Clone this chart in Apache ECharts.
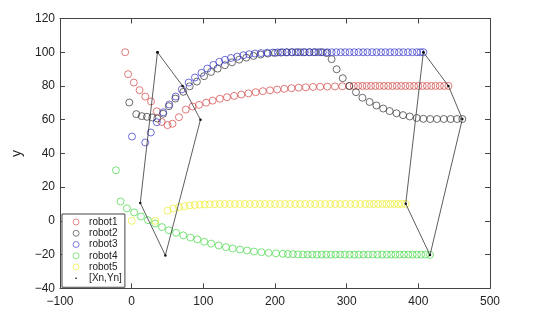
<!DOCTYPE html>
<html>
<head>
<meta charset="utf-8">
<script src="https://cdn.jsdelivr.net/npm/echarts@6/dist/echarts.min.js"></script>
<style>html,body{margin:0;padding:0;background:#fff;}#c{width:545px;height:328px;}</style>
</head>
<body>
<div id="c"></div>
<script>
// ---- data ----
var robot1 = [[-9,100],[-5,87],[3,82],[11,77.5],[19,73.7],[27,70.8],[35,65],[42,58.6],[50,56.8],[57,57.6],[66,61.5],[75.5,66],[85,67.8],[94,68.8],[104,70.1],[113,71.3],[123,72.4],[133,73.3],[143,74.1],[153,74.9],[163,75.6],[173,76.3],[183,76.9],[193,77.4],[203,77.9],[213,78.3],[223,78.7],[233,79],[243,79.2],[253,79.4],[263,79.5],[273,79.6],[283.7,79.7],[294,79.8],[303.7,79.9],[310,80],[316,80],[322,80],[328,80],[334,80],[340,80],[346,80],[352,80],[358,80],[364,80],[370,80],[376,80],[382,80],[388,80],[394,80],[400,80],[406,80],[412,80],[418,80],[424,80],[430,80],[436,80],[442,80]];
var robot2 = [[-3.3,70.2],[6.4,63.3],[14,62.1],[21.4,61.7],[28.8,61.3],[35.7,60.7],[44,63.5],[52,68],[61,72.5],[72,76.5],[81,79.8],[91,82.6],[101,85.8],[110.7,88.3],[120,90.3],[130,92.3],[140,94],[150,95.6],[160,96.8],[170,97.8],[180,98.6],[190,99.2],[200,99.6],[208,99.8],[216,99.9],[224,100],[232,100],[240,100],[248,100],[256,100],[264,100],[272,99.5],[279,95.9],[286,89.9],[294.5,84.6],[303.7,80],[313,76.3],[322,73],[332,70.5],[341.5,68.4],[351,66.6],[360,65.1],[369.5,63.8],[378.6,62.7],[388,61.9],[397.8,61],[407,60.5],[416.5,60.4],[426,60.4],[435.5,60.4],[445,60.4],[454,60.4],[461.4,60.4]];
var robot3 = [[0.4,50],[19,46.5],[26.7,52.4],[35,58.5],[44,64.4],[52.5,69],[61.4,73.7],[70,78],[79.5,82],[88.3,85],[97.5,87.8],[105.5,90.3],[114,92.5],[122.3,94.3],[130.2,95.5],[138.6,96.6],[147.4,97.4],[155.8,98.2],[164,98.8],[172,99.2],[180.5,99.5],[189,99.7],[197,99.8],[204,99.9],[210.5,100],[216.7,100],[223,100],[229,100],[235.5,100],[241.7,100],[248,100],[254,100],[260.5,100],[266.7,100],[273,100],[279,100],[285.5,100],[291.7,100],[298,100],[304,100],[310.5,100],[316.7,100],[323,100],[329,100],[335.5,100],[341.7,100],[348,100],[354,100],[360.5,100],[366.7,100],[373,100],[379,100],[385.5,100],[391.7,100],[398,100],[403,100],[407,100]];
var robot4 = [[-22,30],[-15.5,11.5],[-6.6,7.4],[3.5,5],[13,2.6],[22.8,0.4],[32.7,-1.6],[42.3,-3.7],[52,-5.6],[62,-7.1],[72,-8.6],[82,-9.9],[91.6,-11],[101.3,-12.4],[111,-13.5],[121.4,-14.6],[131.6,-15.6],[141,-16.4],[151.2,-17],[161,-17.6],[170.7,-18.2],[181,-18.6],[191,-19],[201.4,-19.3],[211,-19.5],[218,-19.7],[225,-19.8],[232,-19.9],[239,-20],[245.5,-20],[252,-20],[258.5,-20],[265,-20],[271.5,-20],[278,-20],[284.5,-20],[291,-20],[297.5,-20],[304,-20],[310.5,-20],[317,-20],[323.5,-20],[330,-20],[336.5,-20],[343,-20],[349.5,-20],[356,-20],[362,-20],[368,-20],[374,-20],[380,-20],[386,-20],[392,-20],[398,-20],[404,-20],[410,-20],[416.3,-20.2]];
var robot5 = [[0,0],[33,0],[50,6.1],[58,7.3],[66,8.2],[73.5,8.7],[81,9.1],[88,9.4],[95,9.6],[102,9.7],[109,9.8],[116,9.9],[123,10],[130,10],[137,10],[144,10],[151,10],[158,10],[165,10],[172,10],[179,10],[186,10],[193,10],[200,10],[207,10],[214,10],[221,10],[228,10],[235,10],[242,10],[249,10],[256,10],[263,10],[270,10],[277,10],[284,10],[291,10],[298,10],[305,10],[312,10],[319,10],[326,10],[332,10],[338,10],[344,10],[350,10],[355.5,10],[361,10],[366.5,10],[372,10],[377,10],[382.4,10.1]];
var formationStart = [[36,100],[71,80],[96,60],[47,-20.5],[12,10.6],[36,100]];
var formationEnd = [[407,100],[442,80],[461.4,60.4],[416.3,-20.3],[382.4,10.1],[407,100]];
var names = ['robot1','robot2','robot3','robot4','robot5'];
var xTicks = [-100,0,100,200,300,400,500];
var yTicks = [-40,-20,0,20,40,60,80,100,120];

var colors = ['#d24545','#333333','#3535c8','#45d845','#ecec2c'];
var robots = [robot1, robot2, robot3, robot4, robot5];
var fmt = function (v) { return String(v).replace('-', '\u2212'); };
var font = 'Liberation Sans, Arial, Helvetica, sans-serif';

var series = robots.map(function (d, i) {
  return {
    name: names[i], type: 'scatter', data: d, symbol: 'circle', symbolSize: 7,
    itemStyle: { color: 'rgba(255,255,255,0)', borderColor: colors[i], borderWidth: 0.9 },
    emphasis: { disabled: true }, z: 2
  };
});
[formationStart, formationEnd].forEach(function (d) {
  series.push({
    name: '[Xn,Yn]', type: 'line', data: d, symbol: 'circle', symbolSize: 2.5, showSymbol: true,
    color: '#111', lineStyle: { color: '#333', width: 0.8 }, itemStyle: { color: '#111' },
    emphasis: { disabled: true }, z: 3, animation: false
  });
});

var axisCommon = {
  axisLine: { show: true, onZero: false, lineStyle: { color: '#444', width: 1 } },
  axisTick: { show: true, inside: true, length: 5, lineStyle: { color: '#444' } },
  splitLine: { show: false }
};
function mk(base, extra) { var o = JSON.parse(JSON.stringify(base)); for (var k in extra) o[k] = extra[k]; return o; }

var chart = echarts.init(document.getElementById('c'), null, { renderer: 'canvas' });
chart.setOption({
  animation: false,
  backgroundColor: '#fff',
  grid: { left: 60, top: 18.5, right: 55, bottom: 39.7, containLabel: false },
  xAxis: [
    mk(axisCommon, { type: 'value', position: 'bottom', min: xTicks[0], max: xTicks[xTicks.length - 1], interval: 100,
      axisLabel: { show: true, margin: 7, color: '#222', fontSize: 12, fontFamily: font, formatter: fmt } }),
    mk(axisCommon, { type: 'value', position: 'top', min: xTicks[0], max: xTicks[xTicks.length - 1], interval: 100,
      axisLabel: { show: false } })
  ],
  yAxis: [
    mk(axisCommon, { type: 'value', position: 'left', min: yTicks[0], max: yTicks[yTicks.length - 1], interval: 20,
      name: 'y', nameLocation: 'middle', nameRotate: 90, nameGap: 29,
      nameTextStyle: { fontSize: 14, color: '#222', fontFamily: font },
      axisLabel: { show: true, margin: 5, color: '#222', fontSize: 12, fontFamily: font, formatter: fmt } }),
    mk(axisCommon, { type: 'value', position: 'right', min: yTicks[0], max: yTicks[yTicks.length - 1], interval: 20,
      axisLabel: { show: false } })
  ],
  legend: {
    orient: 'vertical', left: 62, top: 214,
    backgroundColor: '#fff', borderColor: '#444', borderWidth: 1, borderRadius: 0,
    padding: [3, 3, 4, 10.7],
    itemWidth: 16, itemHeight: 6, itemGap: 1.25,
    selectedMode: false,
    itemStyle: { borderWidth: 0.8 },
    textStyle: { fontSize: 10, lineHeight: 10, color: '#222', fontFamily: font, padding: [0, 0, 0, 0] },
    data: names.map(function (n) { return { name: n, icon: 'circle' }; }).concat([
      { name: '[Xn,Yn]', icon: 'path://M0,0L0.01,0L0,0.01ZM10,10L10.01,10L10,10.01ZM3.6,5A1.4,1.4,0,1,1,6.4,5A1.4,1.4,0,1,1,3.6,5Z', itemStyle: { color: '#111', borderWidth: 0 } }
    ]),
    z: 10
  },
  series: series
});
</script>
</body>
</html>
